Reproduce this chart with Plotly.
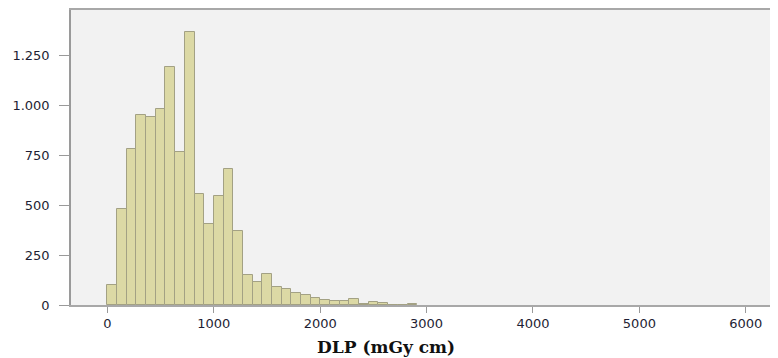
import plotly.graph_objects as go

# Histogram data (SPSS-style DLP histogram)
bin_start = 0
bin_width = 91
counts = [100, 480, 780, 950, 940, 980, 1190, 765, 1370, 555,
          405, 548, 683, 370, 150, 115, 155, 88, 78, 62,
          48, 36, 27, 20, 20, 30, 6, 16, 8, 0,
          0, 6]

x_tick_vals = [0, 1000, 2000, 3000, 4000, 5000, 6000]
x_tick_text = ["0", "1000", "2000", "3000", "4000", "5000", "6000"]
y_tick_vals = [0, 250, 500, 750, 1000, 1250]
y_tick_text = ["0", "250", "500", "750", "1.000", "1.250"]
x_title = "DLP (mGy cm)"

centers = [bin_start + bin_width * (i + 0.5) for i in range(len(counts))]

fig = go.Figure()
fig.add_trace(go.Bar(
    x=centers, y=counts, width=bin_width,
    marker=dict(color="#dcd9a5", line=dict(color="#a3a184", width=1)),
    hoverinfo="x+y",
))

tick_font = dict(family="DejaVu Sans", size=13, color="#1e1e34")

# page body has a default 8px margin; compensate in figure size/margins
fig.update_layout(
    width=770, height=350,
    margin=dict(l=63, r=0, t=0, b=53, pad=0),
    paper_bgcolor="white",
    plot_bgcolor="#f2f2f2",
    showlegend=False,
    bargap=0,
    xaxis=dict(
        range=[-342, 6284],
        tickvals=x_tick_vals, ticktext=x_tick_text,
        ticks="outside", ticklen=6, tickcolor="#9a9a9a", tickwidth=1,
        showline=True, linecolor="#a8a8a8", linewidth=1.5, mirror=True,
        showgrid=False, zeroline=False,
        tickfont=tick_font,
    ),
    yaxis=dict(
        range=[0, 1478],
        tickvals=y_tick_vals, ticktext=y_tick_text,
        ticks="outside", ticklen=10, tickcolor="#9a9a9a", tickwidth=1,
        ticklabelstandoff=7,
        showline=True, linecolor="#9a9a9a", linewidth=1.5, mirror=True,
        showgrid=False, zeroline=False,
        tickfont=tick_font,
    ),
    annotations=[dict(
        text=x_title, xref="paper", yref="paper",
        x=0.447, y=-0.144, xanchor="center", yanchor="middle",
        showarrow=False,
        font=dict(family="DejaVu Serif", size=17, color="#111111", weight="bold"),
    )],
)

fig.write_html("out.html")
